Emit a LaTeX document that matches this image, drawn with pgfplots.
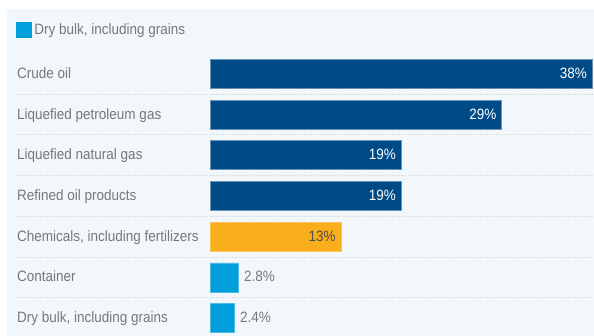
\documentclass[border=0pt]{standalone}
\usepackage{fontspec}
\setmainfont{Liberation Sans}[FakeStretch=0.9]
\usepackage{pgfplots}
\pgfplotsset{compat=1.18}
\definecolor{darkblue}{HTML}{004B87}
\definecolor{orangeb}{HTML}{F9AE1B}
\definecolor{lightblue}{HTML}{009FDB}
\definecolor{bgc}{HTML}{F2F7FC}
\definecolor{txt}{HTML}{77787B}
\definecolor{gridc}{HTML}{D3D6D9}
\begin{document}
\begin{tikzpicture}
\path[use as bounding box] (0,0) rectangle (594bp,336bp);
\fill[bgc] (7bp,0) rectangle (594bp,326.7bp);
\begin{axis}[
  at={(16bp,-2.35bp)}, anchor=south west,
  scale only axis, width=578bp, height=284.9bp,
  xmin=-19.33, xmax=38.18,
  ymin=-0.5, ymax=6.5, y dir=reverse,
  xbar, bar width=29bp, bar shift=0pt,
  axis line style={draw=none},
  major tick length=0pt, minor tick length=0pt,
  xtick=\empty,
  ytick={0,1,2,3,4,5,6},
  yticklabels={Crude oil, Liquefied petroleum gas, Liquefied natural gas, Refined oil products, {Chemicals, including fertilizers}, Container, {Dry bulk, including grains}},
  yticklabel style={anchor=west, inner sep=0pt, xshift=1bp, text height=11bp, text depth=2bp, text=txt},
  minor ytick={0.5,1.5,2.5,3.5,4.5,5.5},
  yminorgrids=true,
  minor grid style={draw=gridc, line width=0.8bp, dash pattern=on 1bp off 1.2bp},
  font=\fontsize{15bp}{18bp}\selectfont,
  clip=false,
  /pgf/number format/assume math mode=true,
  nodes near coords={\pgfmathprintnumber[fixed,precision=1]{\pgfplotspointmeta}\%},
  every node near coord/.append style={inner sep=0pt, text height=11bp, text depth=2bp, font=\fontsize{15bp}{18bp}\selectfont},
  legend style={at={(0,1.0837)}, anchor=west, draw=none, fill=none, inner sep=0pt, nodes={inner sep=0pt, text=txt}, font=\fontsize{15bp}{18bp}\selectfont},
  legend image code/.code={\fill[lightblue] (0bp,-7.5bp) rectangle (15bp,7.5bp); \path (17.5bp,0bp);},
]
\addplot[fill=darkblue, draw=darkblue!60!white, line width=0.6bp,
  every node near coord/.append style={anchor=east, xshift=-5bp, text=white}, forget plot]
  coordinates {(38,0) (29,1) (19,2) (19,3)};
\addplot[fill=orangeb, draw=orangeb!70!white, line width=0.6bp,
  every node near coord/.append style={anchor=east, xshift=-5bp, text=black!70}, forget plot]
  coordinates {(13,4)};
\addplot[fill=lightblue, draw=lightblue!70!white, line width=0.6bp,
  every node near coord/.append style={anchor=west, xshift=5.5bp, text=txt}]
  coordinates {(2.8,5) (2.4,6)};
\addlegendentry{Dry bulk, including grains}
\end{axis}
\end{tikzpicture}
\end{document}
